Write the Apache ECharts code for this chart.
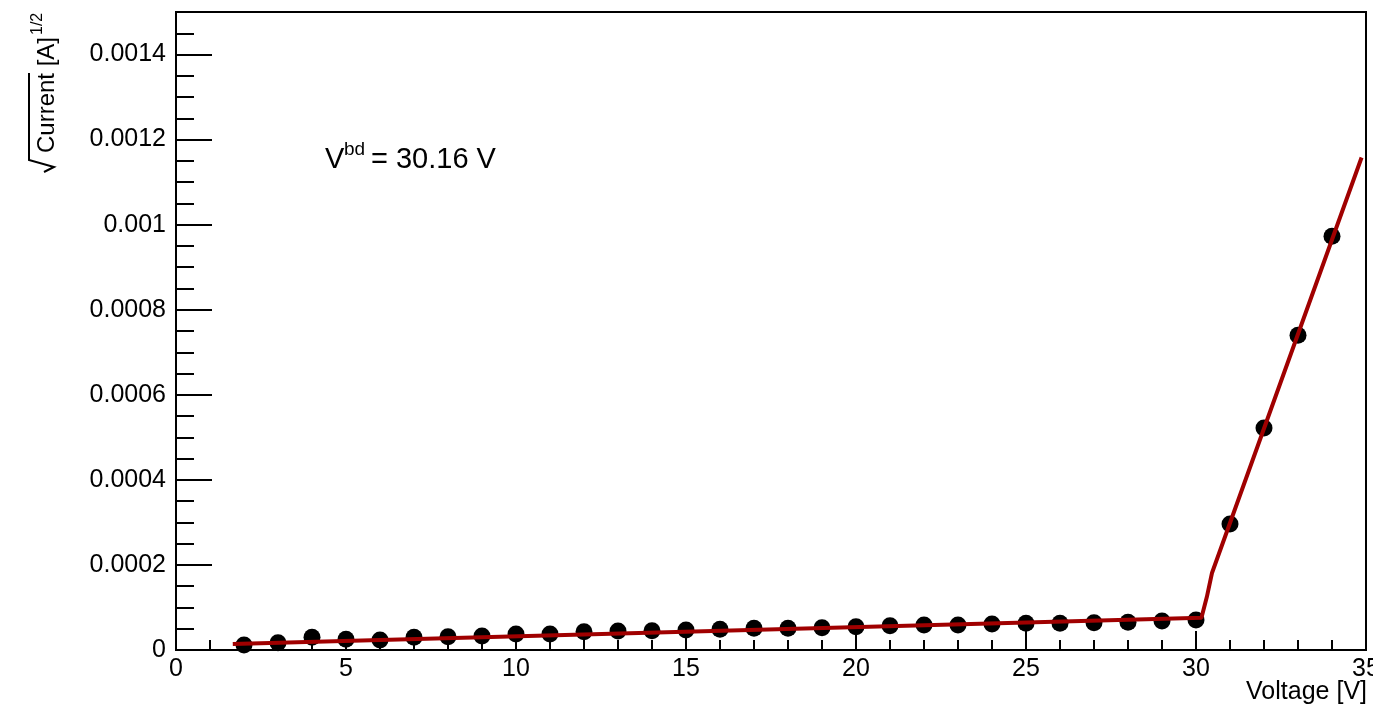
<!DOCTYPE html>
<html>
<head>
<meta charset="utf-8">
<script src="https://cdn.jsdelivr.net/npm/echarts@6/dist/echarts.min.js"></script>
<style>
html,body{margin:0;padding:0;background:#fff;}
#chart{width:1373px;height:711px;}
</style>
</head>
<body>
<div id="chart"></div>
<script>
// Measured points: voltage [V] and sqrt(current) [A^1/2]
const voltage = [2,3,4,5,6,7,8,9,10,11,12,13,14,15,16,17,18,19,20,21,22,23,24,25,26,27,28,29,30,31,32,33,34];
const sqrtCurrent = [1.18e-5,1.72e-5,2.99e-5,2.52e-5,2.35e-5,2.99e-5,3.13e-5,3.29e-5,3.76e-5,3.76e-5,
  4.31e-5,4.47e-5,4.54e-5,4.71e-5,4.87e-5,5.11e-5,5.11e-5,5.25e-5,5.48e-5,5.72e-5,
  5.88e-5,5.88e-5,6.12e-5,6.28e-5,6.28e-5,6.42e-5,6.52e-5,6.82e-5,7.06e-5,
  2.96e-4,5.22e-4,7.40e-4,9.73e-4];
// Fit curve vertices
const fitVoltage = [1.67, 30.16, 30.32, 30.47, 34.87];
const fitSqrtCurrent = [1.41e-5, 7.6e-5, 1.25e-4, 1.81e-4, 1.158e-3];

const FONT = '"Liberation Sans", Arial, Helvetica, sans-serif';
const chart = echarts.init(document.getElementById('chart'), null, {renderer: 'canvas'});

const option = {
  backgroundColor: '#fff',
  animation: false,
  grid: {left: 176, right: 7, top: 12, bottom: 61, show: true, borderColor: '#000', borderWidth: 2,
    containLabel: false, outerBoundsMode: 'none'},
  xAxis: {
    type: 'value', min: 0, max: 35, interval: 5,
    axisLine: {show: true, onZero: false, lineStyle: {color: '#000', width: 2}},
    axisTick: {show: true, inside: true, length: 19, lineStyle: {color: '#000', width: 2}},
    minorTick: {show: true, splitNumber: 5, length: 10, lineStyle: {color: '#000', width: 2}},
    axisLabel: {color: '#000', fontSize: 25, fontFamily: FONT, margin: 7, hideOverlap: false},
    splitLine: {show: false}, minorSplitLine: {show: false}
  },
  yAxis: [{
    type: 'value', min: 0, max: 0.0015, interval: 0.0002, position: 'left',
    axisLine: {show: true, onZero: false, lineStyle: {color: '#000', width: 2}},
    axisTick: {show: true, inside: true, length: 36, lineStyle: {color: '#000', width: 2}},
    axisLabel: {color: '#000', fontSize: 25, fontFamily: FONT, margin: 10, showMaxLabel: false,
      formatter: v => String(+(+v).toFixed(4))},
    splitLine: {show: false}
  }, {
    type: 'value', min: 0, max: 0.0015, interval: 0.00005, position: 'left', offset: 0,
    axisLine: {show: false},
    axisTick: {show: true, inside: true, length: 18, lineStyle: {color: '#000', width: 2}},
    axisLabel: {show: false},
    splitLine: {show: false}
  }],
  series: [{
    type: 'scatter', name: 'data',
    data: voltage.map((v, i) => [v, sqrtCurrent[i]]),
    symbol: 'circle', symbolSize: 17,
    itemStyle: {color: '#000', opacity: 1}, z: 2
  }, {
    type: 'line', name: 'fit',
    data: fitVoltage.map((v, i) => [v, fitSqrtCurrent[i]]),
    showSymbol: false, symbol: 'none', smooth: false,
    lineStyle: {color: '#a00000', width: 4}, z: 3
  }],
  graphic: [
    {type: 'text', x: 1367, y: 692, style: {text: 'Voltage [V]', font: '25px ' + FONT, fill: '#000', align: 'right', verticalAlign: 'middle'}},
    {type: 'group', x: 47, y: 153, rotation: Math.PI / 2, children: [
      {type: 'text', x: 0, y: 0, style: {text: 'Current [A]', font: '24px ' + FONT, fill: '#000', align: 'left', verticalAlign: 'middle'}},
      {type: 'text', x: 118, y: -9, style: {text: '1/2', font: '16px ' + FONT, fill: '#000', align: 'left', verticalAlign: 'middle'}},
      {type: 'polyline', shape: {points: [[-19, -3], [-14, 7], [-7, -18], [80, -18]]}, style: {stroke: '#000', lineWidth: 2, fill: null}}
    ]},
    {type: 'text', x: 325, y: 160, style: {text: 'V', font: '29px ' + FONT, fill: '#000', align: 'left', verticalAlign: 'middle'}},
    {type: 'text', x: 344, y: 150, style: {text: 'bd', font: '19px ' + FONT, fill: '#000', align: 'left', verticalAlign: 'middle'}},
    {type: 'text', x: 371, y: 160, style: {text: '= 30.16 V', font: '29px ' + FONT, fill: '#000', align: 'left', verticalAlign: 'middle'}}
  ]
};
chart.setOption(option);
</script>
</body>
</html>
